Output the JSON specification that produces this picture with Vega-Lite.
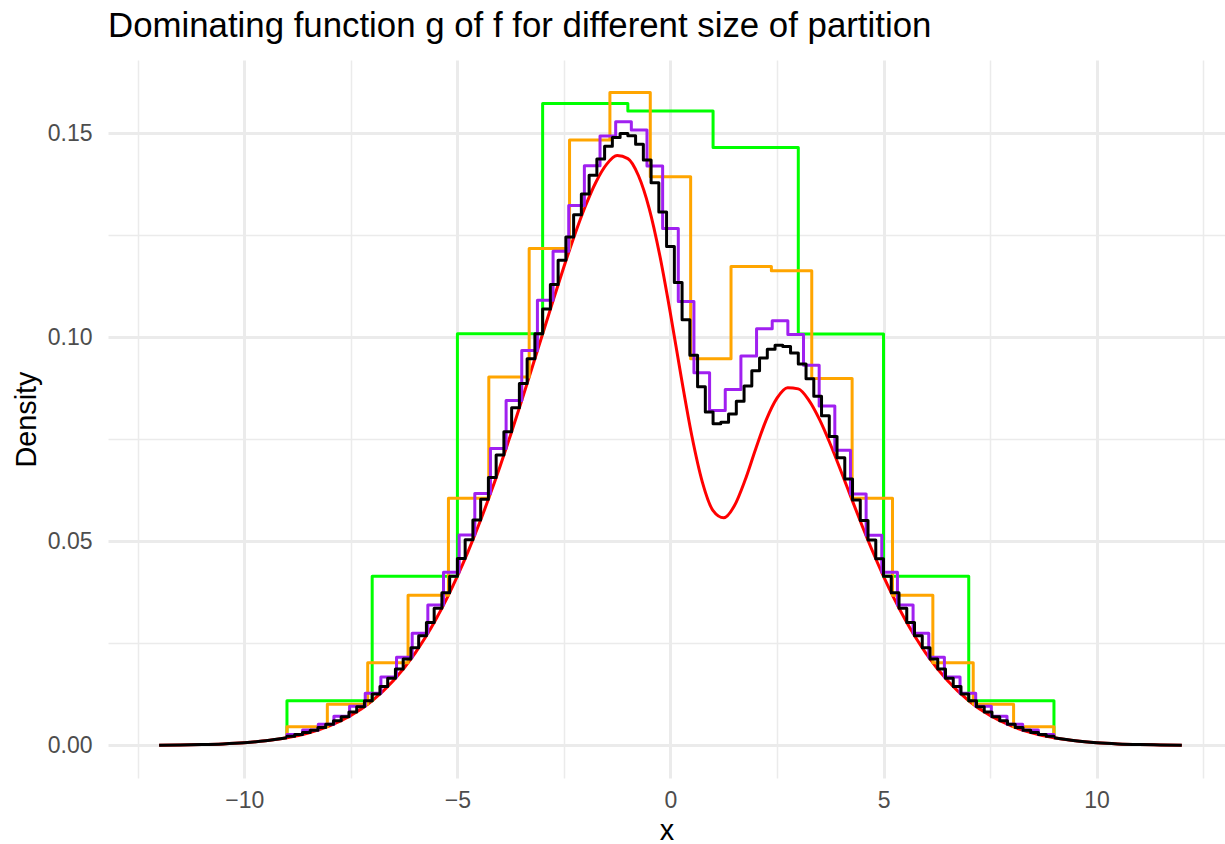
{
  "$schema": "https://vega.github.io/schema/vega-lite/v6.json",
  "width": 1117,
  "height": 718,
  "autosize": {"type": "none"},
  "padding": {"left": 108, "top": 60, "right": 0, "bottom": 66},
  "background": "white",
  "config": {"view": {"stroke": null}, "font": "Liberation Sans"},
  "title": {
    "text": "Dominating function g of f for different size of partition",
    "anchor": "start",
    "frame": "group",
    "font": "Liberation Sans",
    "fontSize": 34.8,
    "fontWeight": "normal",
    "color": "#000000",
    "baseline": "alphabetic",
    "offset": -12
  },
  "datasets": {
    "f": [
      {"x": -12, "y": 0.000056}, {"x": -11.5, "y": 0.000107}, {"x": -11, "y": 0.0002}, {"x": -10.5, "y": 0.000364},
      {"x": -10, "y": 0.000643}, {"x": -9.5, "y": 0.001104}, {"x": -9, "y": 0.001847}, {"x": -8.5, "y": 0.003003},
      {"x": -8, "y": 0.004748}, {"x": -7.5, "y": 0.007304}, {"x": -7, "y": 0.010926}, {"x": -6.5, "y": 0.015896},
      {"x": -6, "y": 0.022496}, {"x": -5.75, "y": 0.026485}, {"x": -5.5, "y": 0.030961}, {"x": -5.25, "y": 0.035949},
      {"x": -5, "y": 0.041449}, {"x": -4.75, "y": 0.047463}, {"x": -4.5, "y": 0.053966}, {"x": -4.25, "y": 0.06094},
      {"x": -4, "y": 0.068338}, {"x": -3.75, "y": 0.076103}, {"x": -3.5, "y": 0.084162}, {"x": -3.25, "y": 0.092428},
      {"x": -3, "y": 0.100788}, {"x": -2.75, "y": 0.109114}, {"x": -2.5, "y": 0.117245}, {"x": -2.25, "y": 0.124967},
      {"x": -2, "y": 0.131995}, {"x": -1.75, "y": 0.137947}, {"x": -1.5, "y": 0.142312}, {"x": -1.25, "y": 0.14447},
      {"x": -1, "y": 0.143745}, {"x": -0.75, "y": 0.139543}, {"x": -0.5, "y": 0.131553}, {"x": -0.25, "y": 0.119988},
      {"x": 0, "y": 0.105733}, {"x": 0.25, "y": 0.090366}, {"x": 0.5, "y": 0.075917}, {"x": 0.75, "y": 0.064445},
      {"x": 1, "y": 0.057507}, {"x": 1.25, "y": 0.055738}, {"x": 1.5, "y": 0.058678}, {"x": 1.75, "y": 0.064936},
      {"x": 2, "y": 0.07261}, {"x": 2.25, "y": 0.079812}, {"x": 2.5, "y": 0.085083}, {"x": 2.75, "y": 0.087633},
      {"x": 3, "y": 0.087323}, {"x": 3.25, "y": 0.084505}, {"x": 3.5, "y": 0.079784}, {"x": 3.75, "y": 0.073831},
      {"x": 4, "y": 0.06723}, {"x": 4.25, "y": 0.060433}, {"x": 4.5, "y": 0.053748}, {"x": 4.75, "y": 0.047375},
      {"x": 5, "y": 0.041416}, {"x": 5.25, "y": 0.035937}, {"x": 5.5, "y": 0.030957}, {"x": 5.75, "y": 0.026485},
      {"x": 6, "y": 0.022496}, {"x": 6.5, "y": 0.015896}, {"x": 7, "y": 0.010926}, {"x": 7.5, "y": 0.007304},
      {"x": 8, "y": 0.004748}, {"x": 8.5, "y": 0.003003}, {"x": 9, "y": 0.001847}, {"x": 9.5, "y": 0.001104},
      {"x": 10, "y": 0.000643}, {"x": 10.5, "y": 0.000364}, {"x": 11, "y": 0.0002}, {"x": 11.5, "y": 0.000107},
      {"x": 12, "y": 0.000056}
    ],
    "g10": [
      {"x": -9, "y": 0.001847}, {"x": -9, "y": 0.010926}, {"x": -7, "y": 0.041449}, {"x": -5, "y": 0.100821},
      {"x": -3, "y": 0.157216}, {"x": -1, "y": 0.155428}, {"x": 1, "y": 0.146445}, {"x": 3, "y": 0.100794},
      {"x": 5, "y": 0.041449}, {"x": 7, "y": 0.010926}, {"x": 9, "y": 0.001847}
    ],
    "g20": [
      {"x": -9, "y": 0.001847}, {"x": -9, "y": 0.004531}, {"x": -8.0526, "y": 0.010061}, {"x": -7.1053, "y": 0.020221},
      {"x": -6.1579, "y": 0.036783}, {"x": -5.2105, "y": 0.060561}, {"x": -4.2632, "y": 0.090247}, {"x": -3.3158, "y": 0.121712},
      {"x": -2.3684, "y": 0.148311}, {"x": -1.4211, "y": 0.15991}, {"x": -0.4737, "y": 0.139289}, {"x": 0.4737, "y": 0.094698},
      {"x": 1.4211, "y": 0.117302}, {"x": 2.3684, "y": 0.116256}, {"x": 3.3158, "y": 0.089858}, {"x": 4.2632, "y": 0.06055},
      {"x": 5.2105, "y": 0.036783}, {"x": 6.1579, "y": 0.020221}, {"x": 7.1053, "y": 0.010061}, {"x": 8.0526, "y": 0.004531},
      {"x": 9, "y": 0.001847}
    ],
    "g50": [
      {"x": -9, "y": 0.001847}, {"x": -9, "y": 0.002646}, {"x": -8.6327, "y": 0.003736}, {"x": -8.2653, "y": 0.005196},
      {"x": -7.898, "y": 0.007119}, {"x": -7.5306, "y": 0.009609}, {"x": -7.1633, "y": 0.012776}, {"x": -6.7959, "y": 0.016734},
      {"x": -6.4286, "y": 0.021592}, {"x": -6.0612, "y": 0.027446}, {"x": -5.6939, "y": 0.034368}, {"x": -5.3265, "y": 0.042396},
      {"x": -4.9592, "y": 0.05152}, {"x": -4.5918, "y": 0.061676}, {"x": -4.2245, "y": 0.072735}, {"x": -3.8571, "y": 0.084499},
      {"x": -3.4898, "y": 0.096706}, {"x": -3.1224, "y": 0.109017}, {"x": -2.7551, "y": 0.12103}, {"x": -2.3878, "y": 0.132241},
      {"x": -2.0204, "y": 0.141979}, {"x": -1.6531, "y": 0.149277}, {"x": -1.2857, "y": 0.152763}, {"x": -0.9184, "y": 0.150775},
      {"x": -0.551, "y": 0.141951}, {"x": -0.1837, "y": 0.126625}, {"x": 0.1837, "y": 0.108736}, {"x": 0.551, "y": 0.091308},
      {"x": 0.9184, "y": 0.08202}, {"x": 1.2857, "y": 0.087175}, {"x": 1.6531, "y": 0.095406}, {"x": 2.0204, "y": 0.102037},
      {"x": 2.3878, "y": 0.103997}, {"x": 2.7551, "y": 0.100643}, {"x": 3.1224, "y": 0.093113}, {"x": 3.4898, "y": 0.083153},
      {"x": 3.8571, "y": 0.072294}, {"x": 4.2245, "y": 0.06155}, {"x": 4.5918, "y": 0.051489}, {"x": 4.9592, "y": 0.042389},
      {"x": 5.3265, "y": 0.034367}, {"x": 5.6939, "y": 0.027446}, {"x": 6.0612, "y": 0.021592}, {"x": 6.4286, "y": 0.016734},
      {"x": 6.7959, "y": 0.012776}, {"x": 7.1633, "y": 0.009609}, {"x": 7.5306, "y": 0.007119}, {"x": 7.898, "y": 0.005196},
      {"x": 8.2653, "y": 0.003736}, {"x": 8.6327, "y": 0.002646}, {"x": 9, "y": 0.001847}
    ],
    "g100": [
      {"x": -9, "y": 0.001847}, {"x": -9, "y": 0.002211}, {"x": -8.8182, "y": 0.002637}, {"x": -8.6364, "y": 0.003134},
      {"x": -8.4545, "y": 0.003711}, {"x": -8.2727, "y": 0.004378}, {"x": -8.0909, "y": 0.005146}, {"x": -7.9091, "y": 0.006026},
      {"x": -7.7273, "y": 0.007031}, {"x": -7.5455, "y": 0.008174}, {"x": -7.3636, "y": 0.009468}, {"x": -7.1818, "y": 0.010926},
      {"x": -7, "y": 0.012562}, {"x": -6.8182, "y": 0.014391}, {"x": -6.6364, "y": 0.016426}, {"x": -6.4545, "y": 0.018679},
      {"x": -6.2727, "y": 0.021164}, {"x": -6.0909, "y": 0.023891}, {"x": -5.9091, "y": 0.026871}, {"x": -5.7273, "y": 0.030111},
      {"x": -5.5455, "y": 0.033619}, {"x": -5.3636, "y": 0.037398}, {"x": -5.1818, "y": 0.041449}, {"x": -5, "y": 0.04577},
      {"x": -4.8182, "y": 0.050357}, {"x": -4.6364, "y": 0.0552}, {"x": -4.4545, "y": 0.060287}, {"x": -4.2727, "y": 0.065601},
      {"x": -4.0909, "y": 0.071123}, {"x": -3.9091, "y": 0.076825}, {"x": -3.7273, "y": 0.082682}, {"x": -3.5455, "y": 0.088658},
      {"x": -3.3636, "y": 0.094718}, {"x": -3.1818, "y": 0.100808}, {"x": -3, "y": 0.106899}, {"x": -2.8182, "y": 0.112926},
      {"x": -2.6364, "y": 0.118835}, {"x": -2.4545, "y": 0.124555}, {"x": -2.2727, "y": 0.130004}, {"x": -2.0909, "y": 0.135085},
      {"x": -1.9091, "y": 0.139678}, {"x": -1.7273, "y": 0.143634}, {"x": -1.5455, "y": 0.146785}, {"x": -1.3636, "y": 0.148932},
      {"x": -1.1818, "y": 0.14986}, {"x": -1, "y": 0.14936}, {"x": -0.8182, "y": 0.147249}, {"x": -0.6364, "y": 0.143413},
      {"x": -0.4545, "y": 0.137838}, {"x": -0.2727, "y": 0.130652}, {"x": -0.0909, "y": 0.122219}, {"x": 0.0909, "y": 0.113369},
      {"x": 0.2727, "y": 0.104294}, {"x": 0.4545, "y": 0.095569}, {"x": 0.6364, "y": 0.087844}, {"x": 0.8182, "y": 0.081677},
      {"x": 1, "y": 0.078762}, {"x": 1.1818, "y": 0.079132}, {"x": 1.3636, "y": 0.081151}, {"x": 1.5455, "y": 0.084323},
      {"x": 1.7273, "y": 0.088056}, {"x": 1.9091, "y": 0.09175}, {"x": 2.0909, "y": 0.094883}, {"x": 2.2727, "y": 0.097056},
      {"x": 2.4545, "y": 0.098026}, {"x": 2.6364, "y": 0.097702}, {"x": 2.8182, "y": 0.096128}, {"x": 3, "y": 0.093438},
      {"x": 3.1818, "y": 0.089834}, {"x": 3.3636, "y": 0.085532}, {"x": 3.5455, "y": 0.080746}, {"x": 3.7273, "y": 0.075666},
      {"x": 3.9091, "y": 0.070451}, {"x": 4.0909, "y": 0.065224}, {"x": 4.2727, "y": 0.060083}, {"x": 4.4545, "y": 0.055093},
      {"x": 4.6364, "y": 0.050302}, {"x": 4.8182, "y": 0.045743}, {"x": 5, "y": 0.041436}, {"x": 5.1818, "y": 0.037398},
      {"x": 5.3636, "y": 0.033619}, {"x": 5.5455, "y": 0.030111}, {"x": 5.7273, "y": 0.026871}, {"x": 5.9091, "y": 0.023891},
      {"x": 6.0909, "y": 0.021164}, {"x": 6.2727, "y": 0.018679}, {"x": 6.4545, "y": 0.016426}, {"x": 6.6364, "y": 0.014391},
      {"x": 6.8182, "y": 0.012562}, {"x": 7, "y": 0.010926}, {"x": 7.1818, "y": 0.009468}, {"x": 7.3636, "y": 0.008174},
      {"x": 7.5455, "y": 0.007031}, {"x": 7.7273, "y": 0.006026}, {"x": 7.9091, "y": 0.005146}, {"x": 8.0909, "y": 0.004378},
      {"x": 8.2727, "y": 0.003711}, {"x": 8.4545, "y": 0.003134}, {"x": 8.6364, "y": 0.002637}, {"x": 8.8182, "y": 0.002211},
      {"x": 9, "y": 0.001847}
    ]
  },
  "resolve": {"axis": {"x": "independent", "y": "independent"}},
  "layer": [
    {
      "data": {"name": "f"},
      "mark": {"type": "line", "color": "#FF0000", "strokeWidth": 3, "interpolate": "monotone", "strokeJoin": "round"},
      "encoding": {
        "x": {"field": "x", "type": "quantitative",
              "scale": {"domain": [-13.2, 13.014], "nice": false, "zero": false},
              "axis": {"orient": "bottom", "values": [-12.5, -7.5, -2.5, 2.5, 7.5, 12.5], "grid": true, "gridColor": "#EBEBEB", "gridWidth": 1.5,
                       "labels": false, "ticks": false, "domain": false, "title": null}},
        "y": {"field": "y", "type": "quantitative",
              "scale": {"domain": [-0.007995, 0.167895], "nice": false, "zero": false},
              "axis": {"orient": "left", "values": [0.025, 0.075, 0.125], "grid": true, "gridColor": "#EBEBEB", "gridWidth": 1.5,
                       "labels": false, "ticks": false, "domain": false, "title": null}}
      }
    },
    {
      "data": {"name": "g10"},
      "mark": {"type": "line", "color": "#00FF00", "strokeWidth": 3, "interpolate": "step-after", "strokeJoin": "round"},
      "encoding": {
        "x": {"field": "x", "type": "quantitative",
              "scale": {"domain": [-13.2, 13.014], "nice": false, "zero": false},
              "axis": {"orient": "bottom", "values": [-10, -5, 0, 5, 10], "format": "d", "grid": true, "gridColor": "#EBEBEB", "gridWidth": 3,
                       "domain": false, "ticks": false, "tickSize": 0, "labelPadding": 11, "labelFontSize": 23, "labelColor": "#4D4D4D",
                       "labelFont": "Liberation Sans", "labelFlush": false,
                       "title": "x", "titleFont": "Liberation Sans", "titleFontSize": 28.8, "titleFontWeight": "normal", "titleColor": "#000000",
                       "titleBaseline": "alphabetic", "titleY": 61}},
        "y": {"field": "y", "type": "quantitative",
              "scale": {"domain": [-0.007995, 0.167895], "nice": false, "zero": false},
              "axis": {"orient": "left", "values": [0, 0.05, 0.1, 0.15], "format": ".2f", "grid": true, "gridColor": "#EBEBEB", "gridWidth": 3,
                       "domain": false, "ticks": false, "tickSize": 0, "labelPadding": 16, "labelFontSize": 23, "labelColor": "#4D4D4D",
                       "labelFont": "Liberation Sans",
                       "title": "Density", "titleFont": "Liberation Sans", "titleFontSize": 28.8, "titleFontWeight": "normal", "titleColor": "#000000",
                       "titleBaseline": "alphabetic", "titleAngle": -90, "titleAlign": "center", "titleX": -73, "titleY": 359}},
        "order": {"value": null}
      }
    },
    {
      "data": {"name": "g20"},
      "mark": {"type": "line", "color": "#FFA500", "strokeWidth": 3, "interpolate": "step-after", "strokeJoin": "round"},
      "encoding": {
        "x": {"field": "x", "type": "quantitative", "scale": {"domain": [-13.2, 13.014], "nice": false, "zero": false}, "axis": null},
        "y": {"field": "y", "type": "quantitative", "scale": {"domain": [-0.007995, 0.167895], "nice": false, "zero": false}, "axis": null},
        "order": {"value": null}
      }
    },
    {
      "data": {"name": "g50"},
      "mark": {"type": "line", "color": "#A020F0", "strokeWidth": 3, "interpolate": "step-after", "strokeJoin": "round"},
      "encoding": {
        "x": {"field": "x", "type": "quantitative", "scale": {"domain": [-13.2, 13.014], "nice": false, "zero": false}, "axis": null},
        "y": {"field": "y", "type": "quantitative", "scale": {"domain": [-0.007995, 0.167895], "nice": false, "zero": false}, "axis": null},
        "order": {"value": null}
      }
    },
    {
      "data": {"name": "g100"},
      "mark": {"type": "line", "color": "#000000", "strokeWidth": 3, "interpolate": "step-after", "strokeJoin": "round"},
      "encoding": {
        "x": {"field": "x", "type": "quantitative", "scale": {"domain": [-13.2, 13.014], "nice": false, "zero": false}, "axis": null},
        "y": {"field": "y", "type": "quantitative", "scale": {"domain": [-0.007995, 0.167895], "nice": false, "zero": false}, "axis": null},
        "order": {"value": null}
      }
    },
    {
      "data": {"name": "f"},
      "transform": [{"filter": "datum.x <= -9"}],
      "mark": {"type": "line", "color": "#000000", "strokeWidth": 3, "interpolate": "monotone"},
      "encoding": {
        "x": {"field": "x", "type": "quantitative", "scale": {"domain": [-13.2, 13.014], "nice": false, "zero": false}, "axis": null},
        "y": {"field": "y", "type": "quantitative", "scale": {"domain": [-0.007995, 0.167895], "nice": false, "zero": false}, "axis": null}
      }
    },
    {
      "data": {"name": "f"},
      "transform": [{"filter": "datum.x >= 9"}],
      "mark": {"type": "line", "color": "#000000", "strokeWidth": 3, "interpolate": "monotone"},
      "encoding": {
        "x": {"field": "x", "type": "quantitative", "scale": {"domain": [-13.2, 13.014], "nice": false, "zero": false}, "axis": null},
        "y": {"field": "y", "type": "quantitative", "scale": {"domain": [-0.007995, 0.167895], "nice": false, "zero": false}, "axis": null}
      }
    }
  ]
}
